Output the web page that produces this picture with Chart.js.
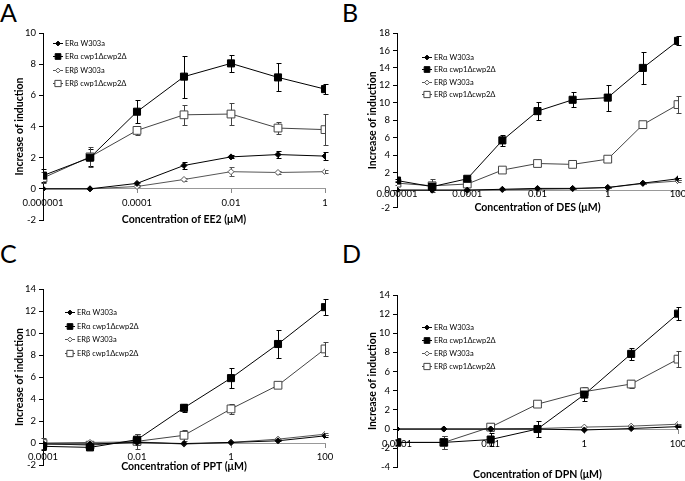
<!DOCTYPE html>
<html><head><meta charset="utf-8">
<script src="https://cdn.jsdelivr.net/npm/chart.js@4.4.1/dist/chart.umd.min.js"></script>
<style>
html,body{margin:0;padding:0;background:#fff;overflow:hidden;width:685px;height:481px;position:relative;}
.letter{position:absolute;font-family:Lato,'Liberation Sans',sans-serif;font-size:25px;color:#000;line-height:1;}
canvas{position:absolute;}
</style></head><body>
<div class="letter" style="left:0px;top:0px">A</div>
<div class="letter" style="left:342px;top:0px">B</div>
<div class="letter" style="left:0px;top:241px">C</div>
<div class="letter" style="left:342px;top:241px">D</div>
<canvas id="cA" width="345" height="240" style="left:0;top:0"></canvas>
<canvas id="cB" width="360" height="240" style="left:340px;top:0"></canvas>
<canvas id="cC" width="345" height="241" style="left:0;top:240px"></canvas>
<canvas id="cD" width="360" height="241" style="left:340px;top:240px"></canvas>
<script>
// ---------- data ----------
const seriesNames = ['ERα W303a', 'ERα cwp1Δcwp2Δ', 'ERβ W303a', 'ERβ cwp1Δcwp2Δ'];
const yTitle = 'Increase of induction';

// Panel A : EE2
const concA = [0.000001, 0.00001, 0.0001, 0.001, 0.01, 0.1, 1];
const tickValsA = [0.000001, 0.0001, 0.01, 1];
const tickLabelsA = ['0.000001', '0.0001', '0.01', '1'];
const aW303A = [0, 0, 0.35, 1.5, 2.05, 2.2, 2.1];
const aW303A_err = [0, 0, 0.1, 0.25, 0.1, 0.2, 0.25];
const aCwpA = [0.85, 2.0, 4.95, 7.2, 8.05, 7.15, 6.4];
const aCwpA_err = [0.4, 0.55, 0.75, 1.35, 0.55, 0.9, 0.3];
const bW303A = [0, 0, 0.15, 0.6, 1.1, 1.05, 1.1];
const bW303A_err = [0, 0, 0.05, 0.1, 0.3, 0.1, 0.1];
const bCwpA = [0.7, 2.05, 3.75, 4.75, 4.8, 3.9, 3.8];
const bCwpA_err = [0.35, 0.65, 0.3, 0.65, 0.7, 0.4, 1.0];

// Panel B : DES
const concB = [0.000001, 0.00001, 0.0001, 0.001, 0.01, 0.1, 1, 10, 100];
const tickValsB = [0.000001, 0.0001, 0.01, 1, 100];
const tickLabelsB = ['0.000001', '0.0001', '0.01', '1', '100'];
const aW303B = [0, 0, 0, 0.1, 0.2, 0.2, 0.3, 0.8, 1.3];
const aW303B_err = [0, 0, 0, 0.05, 0.05, 0.05, 0.05, 0.1, 0.1];
const aCwpB = [1.1, 0.4, 1.3, 5.7, 9.05, 10.35, 10.6, 14.0, 17.1];
const aCwpB_err = [0.2, 0.2, 0.3, 0.6, 1.0, 0.85, 1.5, 1.85, 0.5];
const bW303B = [0, 0, 0, 0.05, 0.1, 0.15, 0.3, 0.75, 1.05];
const bW303B_err = [0, 0, 0, 0, 0, 0, 0.05, 0.1, 0.1];
const bCwpB = [0.8, 0.5, 0.7, 2.3, 3.05, 2.95, 3.55, 7.5, 9.8];
const bCwpB_err = [0.2, 0.75, 0.2, 0.3, 0.3, 0.25, 0.2, 0.35, 1.0];

// Panel C : PPT
const concC = [0.0001, 0.001, 0.01, 0.1, 1, 10, 100];
const tickValsC = [0.0001, 0.01, 1, 100];
const tickLabelsC = ['0.0001', '0.01', '1', '100'];
const aW303C = [-0.1, -0.1, 0.05, -0.05, 0.05, 0.2, 0.65];
const aW303C_err = [0, 0, 0, 0, 0, 0.05, 0.1];
const aCwpC = [-0.3, -0.4, 0.3, 3.2, 5.9, 9.0, 12.35];
const aCwpC_err = [0.3, 0.15, 0.5, 0.35, 0.9, 1.25, 0.75];
const bW303C = [0, 0.05, 0.1, -0.1, 0.05, 0.35, 0.8];
const bW303C_err = [0, 0, 0, 0, 0, 0.05, 0.1];
const bCwpC = [-0.05, -0.2, 0.15, 0.7, 3.1, 5.25, 8.55];
const bCwpC_err = [0.5, 0.3, 0.65, 0.5, 0.45, 0.15, 0.6];

// Panel D : DPN
const concD = [0.0001, 0.001, 0.01, 0.1, 1, 10, 100];
const tickValsD = [0.0001, 0.01, 1, 100];
const tickLabelsD = ['0.0001', '0.01', '1', '100'];
const aW303D = [0, 0, 0, 0, -0.1, 0.05, 0.25];
const aW303D_err = [0, 0, 0, 0, 0, 0, 0.05];
const aCwpD = [-1.4, -1.4, -1.1, 0, 3.6, 7.85, 12.05];
const aCwpD_err = [0.3, 0.7, 0.7, 0.8, 0.7, 0.65, 0.7];
const bW303D = [0, 0, 0, 0.05, 0.2, 0.3, 0.5];
const bW303D_err = [0, 0, 0, 0, 0, 0, 0.05];
const bCwpD = [-1.4, -1.4, 0.2, 2.6, 3.9, 4.7, 7.3];
const bCwpD_err = [0.4, 0.7, 0.4, 0.1, 0.5, 0.4, 0.85];

// ---------- styles ----------
const FONT = 'Lato, "Liberation Sans", sans-serif';
const seriesStyle = [
  {color: '#000', fill: '#000', shape: 'rectRot', r: 3},
  {color: '#000', fill: '#000', shape: 'rect', r: 5},
  {color: '#555', fill: '#fff', shape: 'rectRot', r: 3},
  {color: '#444', fill: '#fff', shape: 'rect', r: 5.5}
];

function drawMarker(ctx, shape, r, x, y, fill, stroke) {
  ctx.beginPath();
  if (shape === 'rect') {
    const s = r * Math.SQRT1_2;
    ctx.rect(x - s, y - s, 2 * s, 2 * s);
  } else {
    ctx.moveTo(x, y - r); ctx.lineTo(x + r, y); ctx.lineTo(x, y + r); ctx.lineTo(x - r, y); ctx.closePath();
  }
  ctx.fillStyle = fill; ctx.fill();
  ctx.strokeStyle = stroke; ctx.lineWidth = 1; ctx.stroke();
}

const errorBars = {
  id: 'errorBars',
  beforeDatasetsDraw(chart) {
    const {ctx, scales: {x, y}} = chart;
    chart.data.datasets.forEach(ds => {
      if (!ds.errors) return;
      ctx.save();
      ctx.strokeStyle = ds.borderColor; ctx.lineWidth = 1;
      ds.data.forEach((pt, j) => {
        const e = ds.errors[j];
        if (!e) return;
        const px = Math.round(x.getPixelForValue(pt.x)) + 0.5;
        const y1 = Math.round(y.getPixelForValue(pt.y + e)) + 0.5;
        const y2 = Math.round(y.getPixelForValue(pt.y - e)) + 0.5;
        ctx.beginPath();
        ctx.moveTo(px, y1); ctx.lineTo(px, y2);
        ctx.moveTo(px - 2, y1); ctx.lineTo(px + 3, y1);
        ctx.moveTo(px - 2, y2); ctx.lineTo(px + 3, y2);
        ctx.stroke();
      });
      ctx.restore();
    });
  }
};

const boxLegend = {
  id: 'boxLegend',
  afterDraw(chart, args, opts) {
    const {ctx, chartArea} = chart;
    const x0 = chartArea.left + opts.dx, y0 = chartArea.top + opts.dy;
    ctx.save();
    ctx.font = opts.size + 'px ' + FONT;
    ctx.textBaseline = 'middle';
    chart.data.datasets.forEach((ds, i) => {
      const st = seriesStyle[i];
      const yy = Math.round(y0 + i * opts.gap) + 0.5;
      ctx.strokeStyle = st.color; ctx.lineWidth = 1;
      ctx.beginPath(); ctx.moveTo(x0, yy); ctx.lineTo(x0 + 10, yy); ctx.stroke();
      drawMarker(ctx, st.shape, st.r * 0.8, x0 + 5, yy, st.fill, st.color);
      ctx.fillStyle = '#000';
      ctx.fillText(ds.label, x0 + 12, yy);
    });
    ctx.restore();
  }
};

function makeChart(id, p) {
  const datasets = p.series.map((vals, i) => {
    const st = seriesStyle[i];
    return {
      label: seriesNames[i],
      data: vals.map((v, k) => ({x: p.conc[k], y: v})),
      errors: p.errors[i],
      borderColor: st.color,
      borderWidth: 1,
      pointStyle: st.shape,
      pointRadius: st.r,
      pointBackgroundColor: st.fill,
      pointBorderColor: st.color,
      pointBorderWidth: 1,
      tension: 0,
      fill: false
    };
  });
  return new Chart(document.getElementById(id), {
    type: 'line',
    data: {datasets},
    options: {
      responsive: false, animation: false, devicePixelRatio: 1,
      layout: {padding: p.pad, autoPadding: false},
      plugins: {
        legend: {display: false}, tooltip: {enabled: false},
        boxLegend: p.legend
      },
      scales: {
        x: {
          type: 'logarithmic', position: {y: 0},
          min: p.conc[0], max: p.conc[p.conc.length - 1],
          afterBuildTicks: s => { s.ticks = p.tickVals.map(v => ({value: v})); },
          afterFit: s => { s.height = p.xH; },
          ticks: {
            autoSkip: false, maxRotation: 0, minRotation: 0, padding: p.xPad,
            font: {family: FONT, size: 9.5}, color: '#000',
            callback: v => { const k = p.tickVals.indexOf(v); return k >= 0 ? p.tickLabels[k] : ''; }
          },
          grid: {drawOnChartArea: false, drawTicks: true, tickLength: 4, color: '#888'},
          border: {color: '#999', width: 1},
          title: {display: true, text: p.xTitle, color: '#000',
                  font: {family: FONT, size: 10.5, weight: 'bold'}, padding: {top: 0, bottom: 0}}
        },
        y: {
          min: p.yMin, max: p.yMax,
          afterFit: s => { s.width = p.yW; },
          ticks: {stepSize: 2, padding: 3, font: {family: FONT, size: 9.5}, color: '#000'},
          grid: {drawOnChartArea: false, drawTicks: true, tickLength: 4, color: '#000'},
          border: {color: '#000', width: 1},
          title: {display: true, text: yTitle, color: '#000',
                  font: {family: FONT, size: 10.5, weight: 'bold'}, padding: {top: p.yTitlePad, bottom: 0}}
        }
      }
    },
    plugins: [errorBars, boxLegend]
  });
}

makeChart('cA', {
  conc: concA, tickVals: tickValsA, tickLabels: tickLabelsA,
  series: [aW303A, aCwpA, bW303A, bCwpA], errors: [aW303A_err, aCwpA_err, bW303A_err, bCwpA_err],
  xTitle: 'Concentration of EE2 (μM)', yMin: -2, yMax: 10,
  pad: {left: 0, top: 33, right: 20, bottom: 20}, yW: 43, xH: 37.3, xPad: 4, yTitlePad: 13.7,
  legend: {dx: 10, dy: 10, gap: 13.4, size: 7.5}
});
makeChart('cB', {
  conc: concB, tickVals: tickValsB, tickLabels: tickLabelsB,
  series: [aW303B, aCwpB, bW303B, bCwpB], errors: [aW303B_err, aCwpB_err, bW303B_err, bCwpB_err],
  xTitle: 'Concentration of DES (μM)', yMin: -2, yMax: 18,
  pad: {left: 0, top: 33, right: 22, bottom: 32.4}, yW: 57, xH: 23.3, xPad: -6, yTitlePad: 26.7,
  legend: {dx: 25, dy: 24, gap: 12.3, size: 7.5}
});
makeChart('cC', {
  conc: concC, tickVals: tickValsC, tickLabels: tickLabelsC,
  series: [aW303C, aCwpC, bW303C, bCwpC], errors: [aW303C_err, aCwpC_err, bW303C_err, bCwpC_err],
  xTitle: 'Concentration of PPT (μM)', yMin: -2, yMax: 14,
  pad: {left: 0, top: 49, right: 20, bottom: 16}, yW: 43, xH: 30.3, xPad: 4, yTitlePad: 13.7,
  legend: {dx: 22, dy: 23, gap: 13.6, size: 7.5}
});
makeChart('cD', {
  conc: concD, tickVals: tickValsD, tickLabels: tickLabelsD,
  series: [aW303D, aCwpD, bW303D, bCwpD], errors: [aW303D_err, aCwpD_err, bW303D_err, bCwpD_err],
  xTitle: 'Concentration of DPN (μM)', yMin: -4, yMax: 14,
  pad: {left: 0, top: 55, right: 22, bottom: 13.7}, yW: 57, xH: 52.3, xPad: 5, yTitlePad: 26.7,
  legend: {dx: 25, dy: 32, gap: 13, size: 7.5}
});
</script>
</body></html>
